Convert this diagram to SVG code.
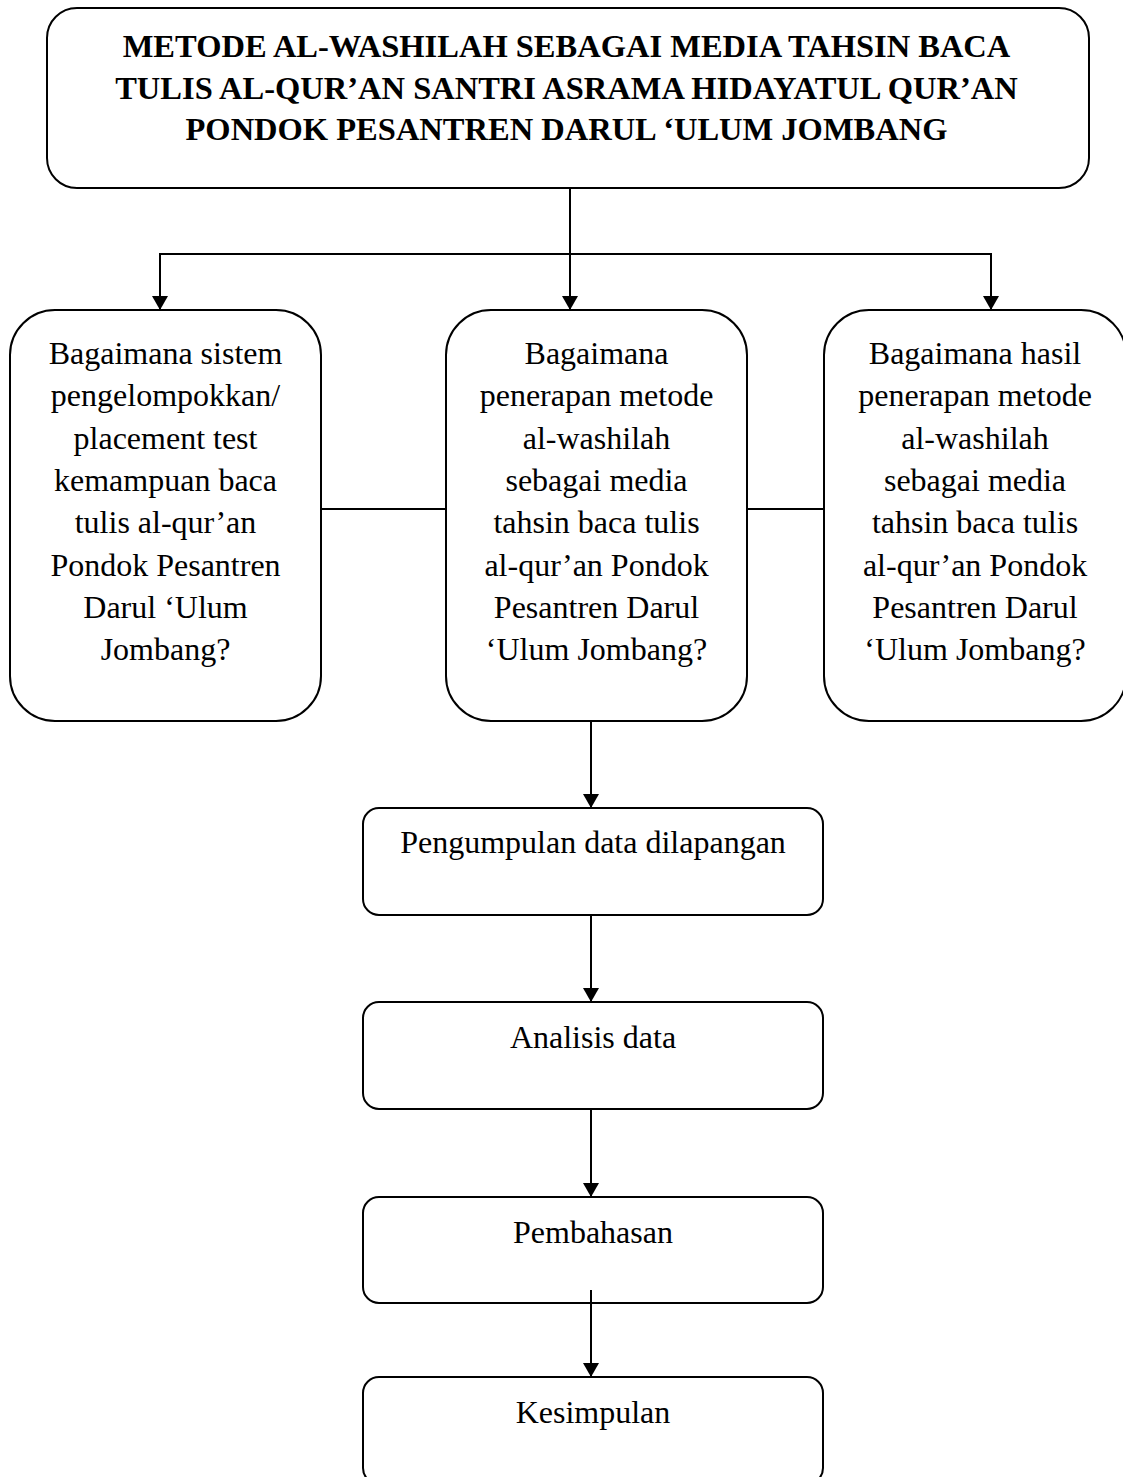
<svg xmlns="http://www.w3.org/2000/svg" width="1123" height="1477" viewBox="0 0 1123 1477">
<defs>
<style>
.box{fill:#fff;stroke:#000;stroke-width:2}
.t{font-family:"Liberation Serif","Times New Roman",serif;font-size:32px;fill:#000;text-anchor:middle}
.tb{font-family:"Liberation Serif","Times New Roman",serif;font-size:32.5px;font-weight:bold;fill:#000;text-anchor:middle}
.c{fill:none;stroke:#000;stroke-width:2}
</style>
<marker id="arr" viewBox="0 0 14 16" refX="14" refY="8" markerWidth="14" markerHeight="16" markerUnits="userSpaceOnUse" orient="auto">
<path d="M0,0 L14,8 L0,16 z" fill="#000"/>
</marker>
</defs>
<rect width="1123" height="1477" fill="#fff"/>
<g id="title">
<rect class="box" x="47" y="8" width="1042" height="180" rx="30" ry="30"/>
<text class="tb" x="566.5" y="57">METODE AL-WASHILAH SEBAGAI MEDIA TAHSIN BACA</text>
<text class="tb" x="566.5" y="99">TULIS AL-QUR’AN SANTRI ASRAMA HIDAYATUL QUR’AN</text>
<text class="tb" x="566.5" y="140">PONDOK PESANTREN DARUL ‘ULUM JOMBANG</text>
</g>
<g id="q1">
<rect class="box" x="10" y="310" width="311" height="411" rx="45" ry="45"/>
<text class="t" x="165.5" y="364">Bagaimana sistem</text>
<text class="t" x="165.5" y="406">pengelompokkan/</text>
<text class="t" x="165.5" y="449">placement test</text>
<text class="t" x="165.5" y="491">kemampuan baca</text>
<text class="t" x="165.5" y="533">tulis al-qur’an</text>
<text class="t" x="165.5" y="576">Pondok Pesantren</text>
<text class="t" x="165.5" y="618">Darul ‘Ulum</text>
<text class="t" x="165.5" y="660">Jombang?</text>
</g>
<g id="q2">
<rect class="box" x="446" y="310" width="301" height="411" rx="45" ry="45"/>
<text class="t" x="596.5" y="364">Bagaimana</text>
<text class="t" x="596.5" y="406">penerapan metode</text>
<text class="t" x="596.5" y="449">al-washilah</text>
<text class="t" x="596.5" y="491">sebagai media</text>
<text class="t" x="596.5" y="533">tahsin baca tulis</text>
<text class="t" x="596.5" y="576">al-qur’an Pondok</text>
<text class="t" x="596.5" y="618">Pesantren Darul</text>
<text class="t" x="596.5" y="660">‘Ulum Jombang?</text>
</g>
<g id="q3">
<rect class="box" x="824" y="310" width="302" height="411" rx="45" ry="45"/>
<text class="t" x="975" y="364">Bagaimana hasil</text>
<text class="t" x="975" y="406">penerapan metode</text>
<text class="t" x="975" y="449">al-washilah</text>
<text class="t" x="975" y="491">sebagai media</text>
<text class="t" x="975" y="533">tahsin baca tulis</text>
<text class="t" x="975" y="576">al-qur’an Pondok</text>
<text class="t" x="975" y="618">Pesantren Darul</text>
<text class="t" x="975" y="660">‘Ulum Jombang?</text>
</g>
<g id="pengumpulan">
<rect class="box" x="363" y="808" width="460" height="107" rx="16" ry="16"/>
<text class="t" x="593" y="853">Pengumpulan data dilapangan</text>
</g>
<g id="analisis">
<rect class="box" x="363" y="1002" width="460" height="107" rx="16" ry="16"/>
<text class="t" x="593" y="1048">Analisis data</text>
</g>
<g id="pembahasan">
<rect class="box" x="363" y="1197" width="460" height="106" rx="16" ry="16"/>
<text class="t" x="593" y="1243">Pembahasan</text>
</g>
<g id="kesimpulan">
<rect class="box" x="363" y="1377" width="460" height="107" rx="16" ry="16"/>
<text class="t" x="593" y="1423">Kesimpulan</text>
</g>
<g id="connectors">
<line class="c" x1="570" y1="188" x2="570" y2="310" marker-end="url(#arr)"/>
<line class="c" x1="160" y1="254" x2="991" y2="254"/>
<line class="c" x1="160" y1="253" x2="160" y2="310" marker-end="url(#arr)"/>
<line class="c" x1="991" y1="253" x2="991" y2="310" marker-end="url(#arr)"/>
<line class="c" x1="321" y1="509" x2="446" y2="509"/>
<line class="c" x1="747" y1="509" x2="824" y2="509"/>
<line class="c" x1="591" y1="721" x2="591" y2="808" marker-end="url(#arr)"/>
<line class="c" x1="591" y1="915" x2="591" y2="1002" marker-end="url(#arr)"/>
<line class="c" x1="591" y1="1109" x2="591" y2="1197" marker-end="url(#arr)"/>
<line class="c" x1="591" y1="1290" x2="591" y2="1377" marker-end="url(#arr)"/>
</g>
</svg>
